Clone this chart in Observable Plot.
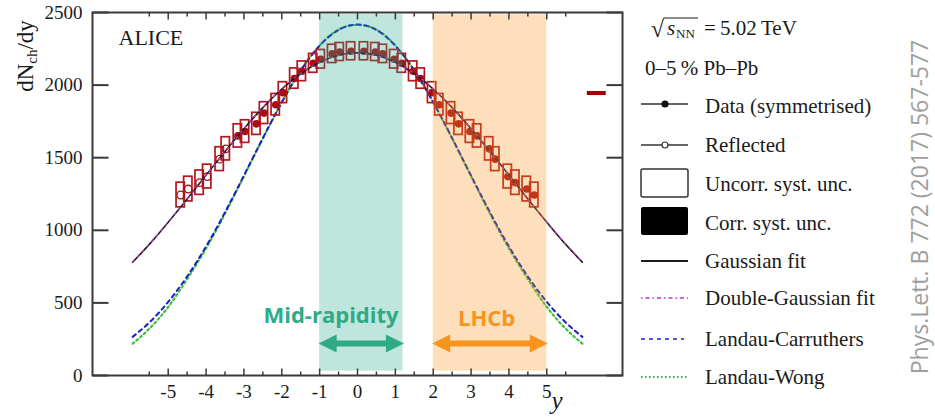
<!DOCTYPE html>
<html><head><meta charset="utf-8">
<script src="https://cdn.jsdelivr.net/npm/d3@7"></script>
<script src="https://cdn.jsdelivr.net/npm/@observablehq/plot@0.6"></script>
<style>
html,body{margin:0;padding:0;background:#fff;}
#chart{width:935px;height:417px;overflow:hidden;}
</style></head><body><div id="chart"></div>
<script>
// ---------- data ----------
const yData = [0.17, 0.47, 0.67, 0.97, 1.17, 1.47, 1.67, 1.97, 2.16, 2.47, 2.67, 2.97, 3.16, 3.48, 3.64, 3.97, 4.17, 4.47, 4.67];
const dNdyData = [2233, 2228, 2215, 2178, 2150, 2095, 2045, 1948, 1865, 1807, 1733, 1680, 1650, 1561, 1490, 1370, 1328, 1284, 1243];
const uncorrErr = [62, 62, 63, 64, 65, 68, 70, 72, 74, 75, 76, 78, 80, 80, 82, 82, 84, 85, 85];
const negMeasuredLimit = -3.3; // data measured down to here on the negative side; beyond it points are reflected

const yCurve = [-5.94,-5.5,-5,-4.5,-4,-3.5,-3,-2.5,-2,-1.5,-1,-0.5,0,0.5,1,1.5,2,2.5,3,3.5,4,4.5,5,5.5,5.94];
const gaussFit = [780,903,1056,1216,1380,1543,1700,1845,1973,2078,2157,2206,2222,2206,2157,2078,1973,1845,1700,1543,1380,1216,1056,903,780];
const doubleGaussFit = [784,905,1058,1214,1377,1541,1700,1847,1975,2079,2156,2204,2220,2204,2156,2079,1975,1847,1700,1541,1377,1214,1058,905,784];
const landauCarruthers = [266,365,507,682,889,1124,1377,1635,1882,2100,2271,2380,2417,2380,2271,2100,1882,1635,1377,1124,889,682,507,365,266];
const landauWong = [219,322,472,664,875,1114,1372,1632,1882,2102,2273,2382,2415,2382,2273,2102,1882,1632,1372,1114,875,664,472,322,219];

const corrSystValue = 1942;
const corrSystErr = 14;

const bandNames = ["Mid-rapidity", "LHCb"];
const bandFrom = [-1, 2];
const bandTo = [1.2, 5];

const xMajorTicks = [-5,-4,-3,-2,-1,0,1,2,3,4,5];
const xMinorTicks = [-5.5,-4.5,-3.5,-2.5,-1.5,-0.5,0.5,1.5,2.5,3.5,4.5,5.5];
const yTicks = [0, 500, 1000, 1500, 2000, 2500];

const legendLabels = ["Data (symmetrised)", "Reflected", "Uncorr. syst. unc.", "Corr. syst. unc.", "Gaussian fit", "Double-Gaussian fit", "Landau-Carruthers", "Landau-Wong"];

// ---------- derived tables ----------
const points = yData.map((y, i) => ({y, v: dNdyData[i], e: uncorrErr[i]}));
const allPts = points.concat(points.map(p => ({y: -p.y, v: p.v, e: p.e})));
const filledPts = allPts.filter(p => p.y >= negMeasuredLimit);
const reflectedPts = allPts.filter(p => p.y < negMeasuredLimit);
const curveRows = arr => yCurve.map((x, i) => ({x, v: arr[i]}));
const bands = bandNames.map((name, i) => ({name, from: bandFrom[i], to: bandTo[i]}));

// ---------- styles ----------
const serif = "'Liberation Serif', 'Times New Roman', serif";
const sans = "'Open Sans', sans-serif";
const axisCol = "#3a3a3a";
const dataCol = "#a80f14";
const boxCol = "#b5161d";
const teal = "#2caa8c";
const tealText = "#2eaa86";
const orange = "#f7941d";
const colGauss = "#1e1e1e", colDG = "#c433c4", colLC = "#1f1fc8", colLW = "#3cc03c";
const dashDG = "2,5", dashLC = "4,4", dashLW = "2,3";

const tickUp = {draw(c, s) { const l = Math.sqrt(s / Math.PI); c.moveTo(0, 0); c.lineTo(0, -l); }};
const tickDown = {draw(c, s) { const l = Math.sqrt(s / Math.PI); c.moveTo(0, 0); c.lineTo(0, l); }};
const tickRight = {draw(c, s) { const l = Math.sqrt(s / Math.PI); c.moveTo(0, 0); c.lineTo(l, 0); }};
const tickLeft = {draw(c, s) { const l = Math.sqrt(s / Math.PI); c.moveTo(0, 0); c.lineTo(-l, 0); }};
const headRight = {draw(c) { c.moveTo(1, 0); c.lineTo(-17, -9); c.lineTo(-17, 9); c.closePath(); }};
const headLeft = {draw(c) { c.moveTo(-1, 0); c.lineTo(17, -9); c.lineTo(17, 9); c.closePath(); }};

const arrowY = 221;
const bandColor = [teal, orange];
const labelColor = [tealText, orange];
const labelX = [-0.7, 3.41];
const labelY = [410, 392];

const bandMarks = [];
bands.forEach((b, i) => {
  bandMarks.push(Plot.rect([b], {x1: "from", x2: "to", y1: 30, y2: 2485, fill: bandColor[i], fillOpacity: 0.3}));
});
const annotMarks = [];
bands.forEach((b, i) => {
  annotMarks.push(Plot.ruleY([b], {y: arrowY, x1: "from", x2: "to", stroke: labelColor[i], strokeWidth: 6, insetLeft: 14, insetRight: 14}));
  annotMarks.push(Plot.dot([b], {x: "to", y: arrowY, symbol: headRight, fill: labelColor[i], stroke: "none"}));
  annotMarks.push(Plot.dot([b], {x: "from", y: arrowY, symbol: headLeft, fill: labelColor[i], stroke: "none"}));
  annotMarks.push(Plot.text([b], {x: labelX[i], y: labelY[i], text: "name", fill: labelColor[i], fontFamily: sans, fontWeight: "bold", fontSize: 22}));
});

const plot = Plot.plot({
  width: 935, height: 417,
  marginLeft: 92, marginRight: 313, marginTop: 12, marginBottom: 42,
  x: {domain: [-7, 7], label: null},
  y: {domain: [0, 2500], label: null},
  style: {fontFamily: serif, fontSize: "19px", color: "#1a1a1a", background: "white", overflow: "visible"},
  marks: [
    // model curves
    Plot.line(curveRows(landauWong), {x: "x", y: "v", curve: "natural", stroke: colLW, strokeWidth: 2.2, strokeDasharray: dashLW}),
    Plot.line(curveRows(landauCarruthers), {x: "x", y: "v", curve: "natural", stroke: colLC, strokeWidth: 2, strokeDasharray: dashLC}),
    // uncorrelated systematic boxes
    Plot.rect(allPts, {x1: d => d.y - 0.11, x2: d => d.y + 0.11, y1: d => d.v - d.e, y2: d => d.v + d.e, fill: "none", stroke: boxCol, strokeWidth: 1.7}),
    // data points
    Plot.dot(filledPts, {x: "y", y: "v", r: 3.8, fill: dataCol, stroke: "none"}),
    Plot.dot(reflectedPts, {x: "y", y: "v", r: 3.8, fill: "none", stroke: dataCol, strokeWidth: 1.3}),
    Plot.line(curveRows(gaussFit), {x: "x", y: "v", curve: "natural", stroke: colGauss, strokeWidth: 1.6}),
    Plot.line(curveRows(doubleGaussFit), {x: "x", y: "v", curve: "natural", stroke: colDG, strokeWidth: 1.3, strokeDasharray: dashDG}),
    // correlated systematic uncertainty
    Plot.rect([{v: corrSystValue, e: corrSystErr}], {x1: 6.07, x2: 6.57, y1: d => d.v - d.e, y2: d => d.v + d.e, fill: "#a00000"}),
    ...bandMarks,
    ...annotMarks,
    // frame and inner ticks
    Plot.frame({stroke: axisCol, strokeWidth: 2}),
    Plot.dot(xMajorTicks, {x: d => d, y: 0, symbol: tickUp, r: 7, fill: "none", stroke: axisCol, strokeWidth: 1.5}),
    Plot.dot(xMinorTicks, {x: d => d, y: 0, symbol: tickUp, r: 4, fill: "none", stroke: axisCol, strokeWidth: 1.5}),
    Plot.dot(xMajorTicks, {x: d => d, y: 2500, symbol: tickDown, r: 7, fill: "none", stroke: axisCol, strokeWidth: 1.5}),
    Plot.dot(xMinorTicks, {x: d => d, y: 2500, symbol: tickDown, r: 4, fill: "none", stroke: axisCol, strokeWidth: 1.5}),
    Plot.dot(yTicks, {x: -7, y: d => d, symbol: tickRight, r: 16, fill: "none", stroke: axisCol, strokeWidth: 2}),
    Plot.dot(yTicks, {x: 7, y: d => d, symbol: tickLeft, r: 16, fill: "none", stroke: axisCol, strokeWidth: 2}),
    Plot.axisX({ticks: xMajorTicks, tickSize: 0, tickPadding: 9, tickFormat: d => String(d), label: null, fontSize: 19}),
    Plot.axisY({ticks: yTicks, tickSize: 0, tickPadding: 10, tickFormat: d => String(d), label: null, fontSize: 19}),
    Plot.text(["ALICE"], {frameAnchor: "top-left", dx: 26, dy: 17, lineAnchor: "top", textAnchor: "start", fontSize: 22, fill: "#1a1a1a"})
  ]
});
document.getElementById("chart").appendChild(plot);

// ---------- titles, legend, citation ----------
const svg = d3.select(plot);
const ink = "#1a1a1a";

// y-axis title dN_ch/dy
const yt = svg.append("text").attr("transform", "translate(33,56) rotate(-90)").attr("text-anchor", "middle")
  .attr("font-family", serif).attr("font-size", 23).attr("fill", ink);
yt.append("tspan").text("dN");
yt.append("tspan").attr("font-size", 15).attr("dy", 4).text("ch");
yt.append("tspan").attr("dy", -4).text("/dy");

// x-axis title
svg.append("text").attr("x", 557).attr("y", 409).attr("text-anchor", "middle").attr("font-family", serif)
  .attr("font-style", "italic").attr("font-size", 25).attr("fill", ink).text("y");

// legend header
const L = svg.append("g").attr("font-family", serif).attr("font-size", 21).attr("fill", ink).attr("text-anchor", "start");
L.append("text").attr("x", 651).attr("y", 37).attr("font-size", 24).text("\u221A");
L.append("line").attr("x1", 664).attr("x2", 698).attr("y1", 18).attr("y2", 18).attr("stroke", ink).attr("stroke-width", 1.2);
L.append("text").attr("x", 667).attr("y", 35).attr("font-style", "italic").text("s");
L.append("text").attr("x", 676).attr("y", 38).attr("font-size", 13).text("NN");
L.append("text").attr("x", 704).attr("y", 35).text("=\u20095.02\u2009TeV");
L.append("text").attr("x", 645).attr("y", 75).text("0\u20135\u2009% Pb\u2013Pb");

const symX1 = 641, symX2 = 688, symXc = 665, txtX = 705;
const rowY = [104, 145, 183, 221, 261, 298, 339, 377];
const txtY = [113, 152, 191, 230, 268, 305, 346, 384];
legendLabels.forEach((t, i) => L.append("text").attr("x", txtX).attr("y", txtY[i]).text(t));
// symbols
L.append("line").attr("x1", symX1).attr("x2", symX2).attr("y1", rowY[0]).attr("y2", rowY[0]).attr("stroke", "#333").attr("stroke-width", 1.5);
L.append("circle").attr("cx", symXc).attr("cy", rowY[0]).attr("r", 3.6).attr("fill", "#111");
L.append("line").attr("x1", symX1).attr("x2", symX2).attr("y1", rowY[1]).attr("y2", rowY[1]).attr("stroke", "#333").attr("stroke-width", 1.5);
L.append("circle").attr("cx", symXc).attr("cy", rowY[1]).attr("r", 3).attr("fill", "#fff").attr("stroke", "#333").attr("stroke-width", 1.2);
L.append("rect").attr("x", symX1).attr("y", rowY[2] - 14).attr("width", symX2 - symX1).attr("height", 28).attr("rx", 2)
  .attr("fill", "none").attr("stroke", "#333").attr("stroke-width", 1.5);
L.append("rect").attr("x", symX1).attr("y", rowY[3] - 14).attr("width", symX2 - symX1).attr("height", 28).attr("rx", 2).attr("fill", "#000");
L.append("line").attr("x1", symX1).attr("x2", symX2).attr("y1", rowY[4]).attr("y2", rowY[4]).attr("stroke", colGauss).attr("stroke-width", 2);
L.append("line").attr("x1", symX1).attr("x2", symX2).attr("y1", rowY[5]).attr("y2", rowY[5]).attr("stroke", colDG).attr("stroke-width", 1.4).attr("stroke-dasharray", "1.5,3,4,3");
L.append("line").attr("x1", symX1).attr("x2", symX2 - 4).attr("y1", rowY[6]).attr("y2", rowY[6]).attr("stroke", colLC).attr("stroke-width", 1.5).attr("stroke-dasharray", dashLC);
L.append("line").attr("x1", symX1).attr("x2", symX2).attr("y1", rowY[7]).attr("y2", rowY[7]).attr("stroke", colLW).attr("stroke-width", 1.8).attr("stroke-dasharray", "1.6,2.4");

// citation
svg.append("text").attr("transform", "translate(928,207) rotate(-90)").attr("text-anchor", "middle")
  .attr("font-family", sans).attr("font-size", 23).attr("fill", "#9e9e9e").text("Phys.Lett. B 772 (2017) 567-577");
</script>
</body></html>
